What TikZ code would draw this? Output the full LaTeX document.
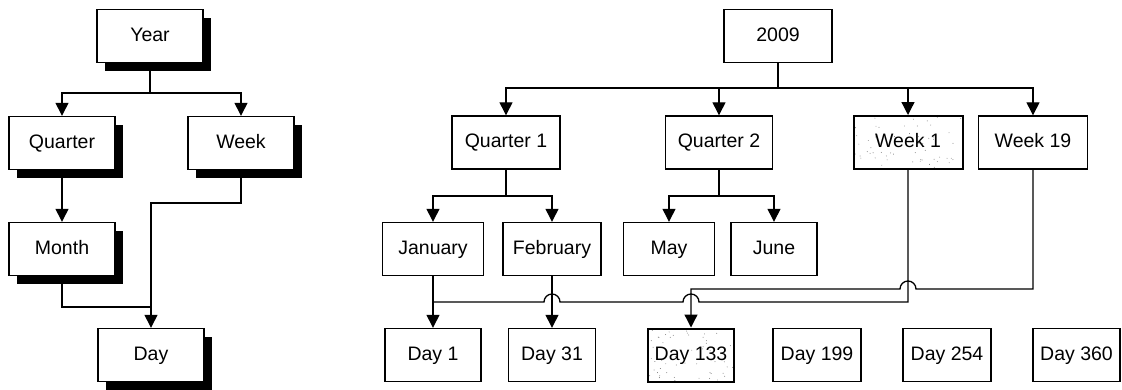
\documentclass[tikz,border=0pt]{standalone}
\usepackage{fontspec}
\setmainfont{Liberation Sans}
\usetikzlibrary{arrows.meta,shadows,calc}

\tikzset{
  box/.style={draw, line width=1.4pt, fill=white, inner sep=0pt,
              minimum height=53pt, text height=14pt, text depth=4pt,
              font=\fontsize{19.5}{22}\selectfont},
  shadowbox/.style={box, minimum width=106pt,
              drop shadow={shadow xshift=8pt, shadow yshift=-8pt, fill=black, opacity=1}},
  speckled/.style={line width=2pt, path picture={
      \pgfmathsetseed{#1}
      \foreach \k in {1,...,60}{
        \fill[black!55] ($(path picture bounding box.south west)!rnd!(path picture bounding box.south east)
                          + (0, rnd*53pt)$) circle (0.45pt);
      }}},
  link/.style={line width=1.3pt},
  arr/.style={link, -{Triangle[width=13pt,length=13pt]}},
}

\begin{document}
\begin{tikzpicture}[x=1pt, y=-1pt]
  \useasboundingbox (0,0) rectangle (1122,389);

  % ---- generic hierarchy ----
  \node[shadowbox] (year)    at (150,36)  {Year};
  \node[shadowbox] (quarter) at (62,143)  {Quarter};
  \node[shadowbox] (week)    at (241,143) {Week};
  \node[shadowbox] (month)   at (62,249)  {Month};
  \node[shadowbox] (day)     at (151,355) {Day};

  \coordinate (ybus) at (150,93);
  \coordinate (dbus) at (151,203);
  \coordinate (mbus) at (151,307);

  \draw[link] (year.south) -- (ybus);
  \draw[arr] (ybus) -| (quarter.north);
  \draw[arr] (ybus) -| (week.north);
  \draw[arr] (quarter.south) -- (month.north);
  \draw[arr] (week.south) |- (dbus) -- (day.north);
  \draw[link] (month.south) |- (mbus);

  % ---- instance hierarchy ----
  \node[box, minimum width=108pt] (y2009) at (778,36)   {2009};
  \node[box, minimum width=108pt] (q1)    at (506,142.5) {Quarter 1};
  \node[box, minimum width=107pt] (q2)    at (719,142.5) {Quarter 2};
  \node[box, minimum width=109pt, speckled=11] (w1) at (908,142.5) {Week 1};
  \node[box, minimum width=109pt] (w19)   at (1033,142.5) {Week 19};

  \node[box, minimum width=101pt] (jan) at (433,249) {January};
  \node[box, minimum width=98pt]  (feb) at (552,249) {February};
  \node[box, minimum width=91pt]  (may) at (669,249) {May};
  \node[box, minimum width=86pt]  (jun) at (774,249) {June};

  \node[box, minimum width=96pt] (d1)   at (433,355)  {Day 1};
  \node[box, minimum width=87pt] (d31)  at (552,355)  {Day 31};
  \node[box, minimum width=86pt, speckled=7] (d133) at (691,355) {Day 133};
  \node[box, minimum width=88pt] (d199) at (817,355)  {Day 199};
  \node[box, minimum width=88pt] (d254) at (947,355)  {Day 254};
  \node[box, minimum width=87pt] (d360) at (1076.5,355) {Day 360};

  \coordinate (tbus)  at (778,88);
  \coordinate (q1bus) at (506,196);
  \coordinate (q2bus) at (719,196);
  % crossing points of the week connectors
  \coordinate (x19)  at (908,289);
  \coordinate (x1a)  at (691,302);
  \coordinate (x1b)  at (552,302);
  \coordinate (jjoin) at (433,302);

  \draw[link] (y2009.south) -- (tbus);
  \draw[arr] (tbus) -| (q1.north);
  \draw[arr] (tbus) -| (q2.north);
  \draw[arr] (tbus) -| (w1.north);
  \draw[arr] (tbus) -| (w19.north);

  \draw[link] (q1.south) -- (q1bus);
  \draw[arr] (q1bus) -| (jan.north);
  \draw[arr] (q1bus) -| (feb.north);
  \draw[link] (q2.south) -- (q2bus);
  \draw[arr] (q2bus) -| (may.north);
  \draw[arr] (q2bus) -| (jun.north);

  \draw[arr] (jan.south) -- (d1.north);
  \draw[arr] (feb.south) -- (d31.north);

  \draw[arr] (w19.south) |- ([xshift=8pt]x19)
             arc[start angle=0, end angle=180, radius=8pt]
             -| (d133.north);
  \draw[link] (w1.south) |- ([xshift=8pt]x1a)
             arc[start angle=0, end angle=180, radius=8pt]
             -- ([xshift=8pt]x1b)
             arc[start angle=0, end angle=180, radius=8pt]
             -- (jjoin);
\end{tikzpicture}
\end{document}
